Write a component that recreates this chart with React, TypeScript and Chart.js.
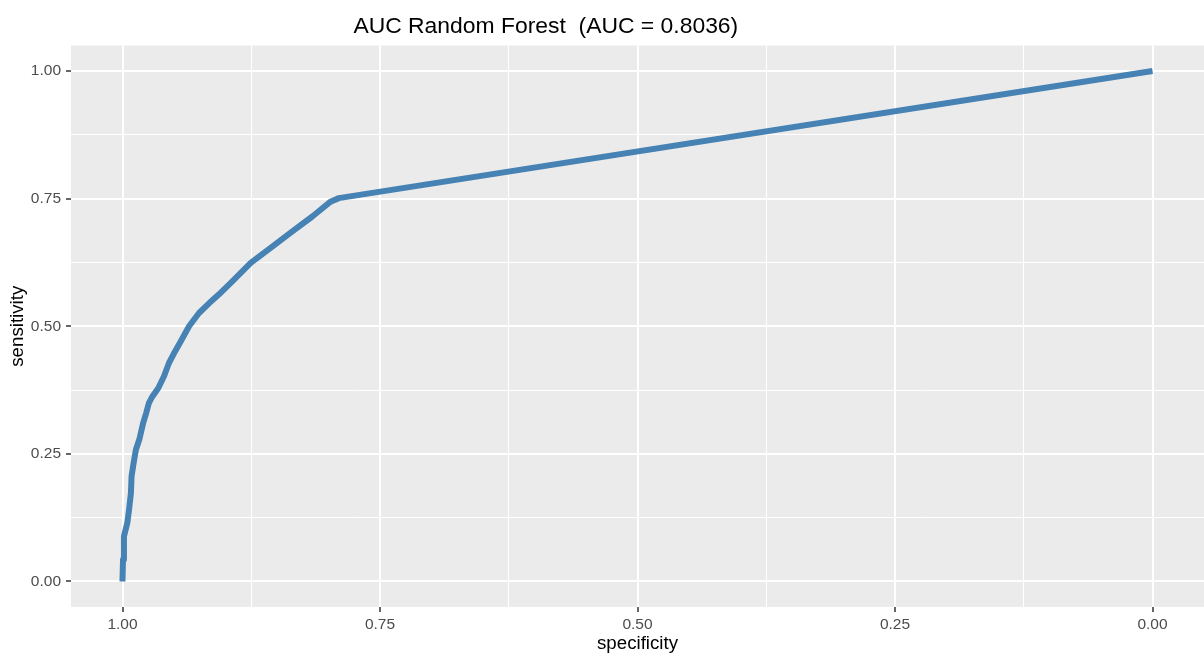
import { useEffect, useRef } from "react";
import { Chart, registerables } from "chart.js";

Chart.register(...registerables);

// ROC curve points (specificity on x, sensitivity on y)
const specificity = [
  1.0, 1.0, 0.9995, 0.9986, 0.9953, 0.9937, 0.9918, 0.9912, 0.9892, 0.987,
  0.9837, 0.98, 0.977, 0.9743, 0.9711, 0.9652, 0.9597, 0.9549, 0.95, 0.9435,
  0.9354, 0.9257, 0.916, 0.9063, 0.8934, 0.8755, 0.8546, 0.8351, 0.8157, 0.798,
  0.79, 0.0,
];
const sensitivity = [
  0.0, 0.003, 0.043, 0.088, 0.115, 0.14, 0.174, 0.206, 0.232, 0.258,
  0.278, 0.31, 0.33, 0.35, 0.362, 0.379, 0.402, 0.428, 0.447, 0.47,
  0.5, 0.526, 0.545, 0.5626, 0.588, 0.624, 0.656, 0.686, 0.715, 0.744,
  0.751, 1.0,
];

// Grid positions: labelled breaks every 0.25, minor lines halfway between
const gridValues = [0, 0.125, 0.25, 0.375, 0.5, 0.625, 0.75, 0.875, 1];
const labelledValues = [0, 0.25, 0.5, 0.75, 1];

const chartTitle = "AUC Random Forest  (AUC = 0.8036)";
const xAxisTitle = "specificity";
const yAxisTitle = "sensitivity";

const FONT = '"Liberation Sans", Arial, sans-serif';

const isLabelled = (v: number) =>
  labelledValues.some((m) => Math.abs(m - v) < 1e-9);

const panelBackground = {
  id: "panelBackground",
  beforeDraw(chart: any) {
    const { ctx, chartArea } = chart;
    ctx.save();
    ctx.fillStyle = "#EBEBEB";
    ctx.fillRect(
      chartArea.left,
      chartArea.top,
      chartArea.right - chartArea.left,
      chartArea.bottom - chartArea.top
    );
    ctx.restore();
  },
};

const plotTitle = {
  id: "plotTitle",
  afterDraw(chart: any) {
    const { ctx } = chart;
    ctx.save();
    ctx.font = `22.9px ${FONT}`;
    ctx.fillStyle = "#000000";
    ctx.textAlign = "center";
    ctx.textBaseline = "alphabetic";
    ctx.fillText(chartTitle, 545.8, 33.3);
    ctx.restore();
  },
};

function gridScale(extra: any) {
  return {
    type: "linear",
    min: -0.05,
    max: 1.05,
    afterBuildTicks: (scale: any) => {
      scale.ticks = gridValues.map((v) => ({ value: v }));
    },
    ticks: {
      autoSkip: false,
      maxRotation: 0,
      color: "#4D4D4D",
      font: { family: FONT, size: 15.5 },
      callback: (v: any) => (isLabelled(Number(v)) ? Number(v).toFixed(2) : ""),
      ...extra.ticks,
    },
    grid: {
      color: "#FFFFFF",
      lineWidth: (ctx: any) => (ctx.tick && isLabelled(ctx.tick.value) ? 2 : 1),
      tickColor: (ctx: any) =>
        ctx.tick && isLabelled(ctx.tick.value) ? "#333333" : "rgba(0,0,0,0)",
      tickWidth: 1.5,
      tickLength: 5,
    },
    border: { display: false },
    ...extra.rest,
  };
}

export default function App() {
  const canvasRef = useRef<HTMLCanvasElement | null>(null);

  useEffect(() => {
    if (!canvasRef.current) return;
    const points = specificity.map((s, i) => ({ x: s, y: sensitivity[i] }));

    const chart = new Chart(canvasRef.current, {
      type: "scatter",
      data: {
        datasets: [
          {
            data: points,
            showLine: true,
            borderColor: "#4682B4",
            backgroundColor: "#4682B4",
            borderWidth: 6,
            borderCapStyle: "butt",
            borderJoinStyle: "round",
            pointRadius: 0,
            pointHoverRadius: 0,
            tension: 0,
          },
        ],
      },
      options: {
        animation: false,
        responsive: false,
        devicePixelRatio: 1,
        layout: { padding: { top: 45.5, left: 0, right: 0, bottom: 0 } },
        plugins: {
          legend: { display: false },
          tooltip: { enabled: false },
          title: { display: false },
        },
        scales: {
          x: gridScale({
            ticks: { padding: 3 },
            rest: {
              reverse: true,
              afterFit: (scale: any) => {
                scale.height = 48;
              },
              title: {
                display: true,
                text: xAxisTitle,
                color: "#000000",
                font: { family: FONT, size: 18.7 },
                padding: { top: 0, bottom: 0 },
              },
            },
          }),
          y: gridScale({
            ticks: { padding: 5 },
            rest: {
              afterFit: (scale: any) => {
                scale.width = 71;
              },
              title: {
                display: true,
                text: yAxisTitle,
                color: "#000000",
                font: { family: FONT, size: 18.7 },
                padding: { top: 7, bottom: 0 },
              },
            },
          }),
        } as any,
      },
      plugins: [panelBackground, plotTitle],
    } as any);

    return () => chart.destroy();
  }, []);

  return (
    <div
      style={{
        position: "absolute",
        left: 0,
        top: 0,
        width: 1204,
        height: 655,
        background: "#FFFFFF",
      }}
    >
      <canvas ref={canvasRef} width={1204} height={655} />
    </div>
  );
}
